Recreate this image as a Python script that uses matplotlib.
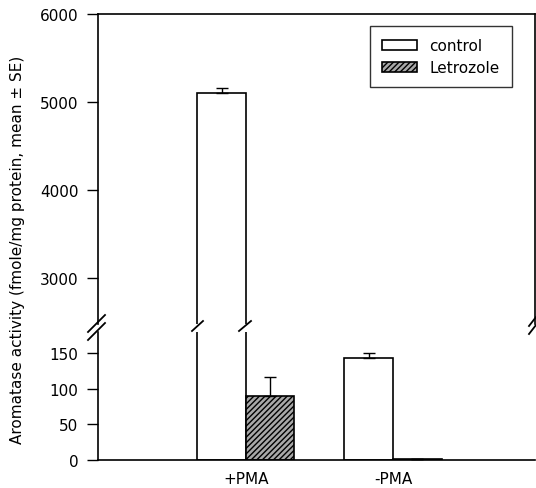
import numpy as np
import matplotlib
matplotlib.use("Agg")
import matplotlib.pyplot as plt
from matplotlib.lines import Line2D

plt.rcParams['font.family'] = ['DejaVu Sans']
plt.rcParams['font.size'] = 11

# dados
grupos = ['+PMA', '-PMA']
controle = [5100, 144]
controle_se = [60, 6]
letrozol = [90, 2]
letrozol_se = [27, 0]

W, H = 536, 489
fig = plt.figure(figsize=(W / 100, H / 100), dpi=100)

# eixo de cima (2475-6000) e eixo de baixo (0-180)
esq, dir_ = 98, 535
ax_top = fig.add_axes([esq / W, 1 - 325 / H, (dir_ - esq) / W, (325 - 15) / H])
ax_bot = fig.add_axes([esq / W, 1 - 461 / H, (dir_ - esq) / W, (461 - 333) / H])

x = np.arange(len(grupos))
larg = 0.33

for ax in (ax_top, ax_bot):
    ax.bar(x - larg / 2, controle, larg, color='white', edgecolor='black',
           linewidth=1.2, label='control')
    ax.bar(x + larg / 2, letrozol, larg, color='#a8a8a8', edgecolor='black',
           linewidth=1.2, hatch='//////', label='Letrozole')
    ax.errorbar(x - larg / 2, controle, yerr=[np.zeros(2), controle_se],
                fmt='none', ecolor='black', elinewidth=1, capsize=4, capthick=1)
    ax.errorbar(x + larg / 2, letrozol, yerr=[np.zeros(2), letrozol_se],
                fmt='none', ecolor='black', elinewidth=1, capsize=4, capthick=1)
    ax.set_xlim(-1.005, 1.965)
    ax.tick_params(axis='y', direction='out', length=8, width=1, pad=6)
    for s in ax.spines.values():
        s.set_linewidth(1.2)

ax_top.set_ylim(2475, 6000)
ax_top.set_yticks([3000, 4000, 5000, 6000])
ax_top.spines['bottom'].set_visible(False)
ax_top.set_xticks([])

ax_bot.set_ylim(0, 180)
ax_bot.set_yticks([0, 50, 100, 150])
ax_bot.spines['top'].set_visible(False)
ax_bot.spines['right'].set_visible(False)
ax_bot.set_xticks(x)
ax_bot.set_xticklabels(grupos)
ax_bot.tick_params(axis='x', length=0, pad=8)

leg = ax_top.legend(loc='upper right', bbox_to_anchor=(0.947, 0.961),
                    borderaxespad=0, frameon=True, fancybox=False,
                    edgecolor='black', handlelength=2.3, handleheight=0.6,
                    borderpad=0.8, labelspacing=0.45, handletextpad=0.8)
leg.get_frame().set_linewidth(1.0)

fig.text(18 / W, 1 - 250 / H, 'Aromatase activity (fmole/mg protein, mean ± SE)',
         rotation=90, ha='center', va='center')

# marcas de quebra do eixo (em pixels)
def quebra(x0, y0, x1, y1):
    fig.add_artist(Line2D([x0 / W, x1 / W], [1 - y0 / H, 1 - y1 / H],
                          color='black', lw=1.3, transform=fig.transFigure))

quebra(88, 333, 105, 316)
quebra(88, 341, 105, 324)
quebra(529, 327, 536, 318)
quebra(529, 335, 536, 326)
quebra(192, 332, 203, 322)
quebra(239, 332, 251, 322)

fig.savefig('out.png', dpi=100)
